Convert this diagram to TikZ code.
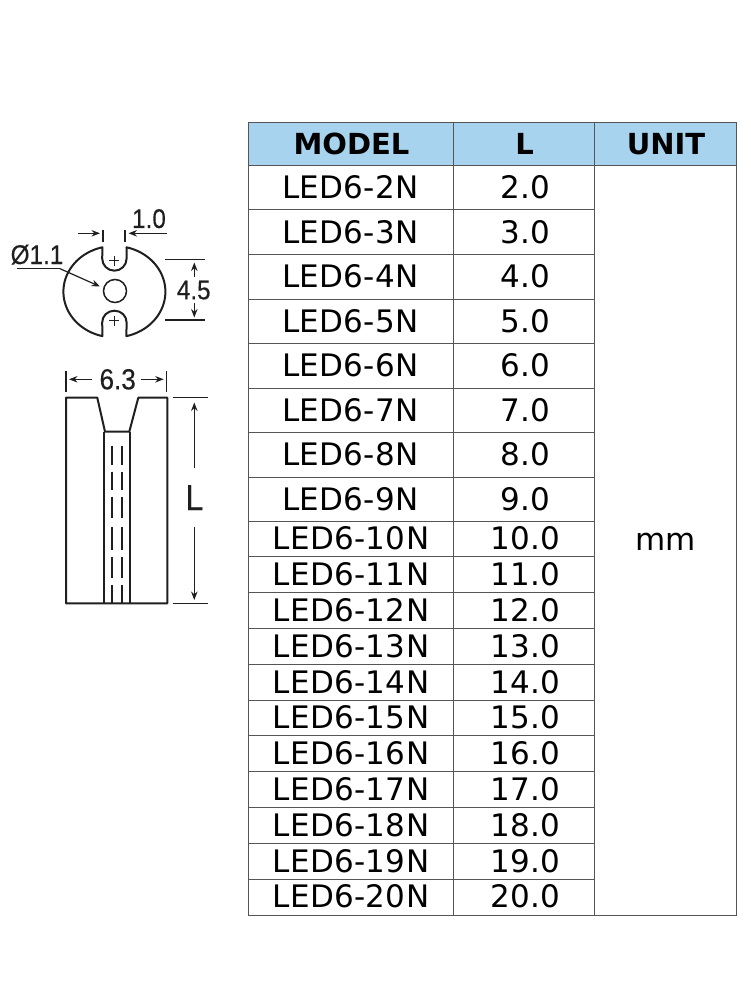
\documentclass[tikz,border=0pt]{standalone}
\usepackage{fontspec}
\setmainfont{DejaVu Sans}
\newfontfamily\cellfont[LetterSpace=1]{DejaVu Sans}
\newfontfamily\dimfont[FakeBold=0.25]{Liberation Sans}
\usetikzlibrary{arrows.meta}
\definecolor{headblue}{HTML}{A7D3EE}
\definecolor{gridgray}{HTML}{555555}
\definecolor{ink}{HTML}{1F1F1F}
\tikzset{
  x=1pt,y=-1pt,
  gridline/.style={draw=gridgray,line width=1pt},
  cellT/.style={anchor=base,inner sep=0pt,text=black,font=\cellfont\fontsize{31}{31}\selectfont},
  headT/.style={anchor=base,inner sep=0pt,text=black,font=\fontsize{29}{29}\selectfont\bfseries},
  dimT/.style={anchor=base,inner sep=0pt,text=ink,font=\dimfont\fontsize{27}{27}\selectfont,xscale=.9,transform shape},
  outlineline/.style={draw=ink,line width=2pt,line join=round},
  thinline/.style={draw=ink,line width=1.5pt},
  dashline/.style={draw=ink,line width=1.8pt},
  dimarrow/.style={draw=ink,line width=1.2pt,-{Stealth[length=8.5pt,width=6.5pt]}}
}
\begin{document}
\begin{tikzpicture}
\useasboundingbox (0,0) rectangle (750,1000);
% ---- table
\fill[headblue] (248,122.5) rectangle (736,166);
\foreach \y in {210,254.5,299,343.5,388,432.5,477,521,556.8,592.6,628.4,664.2,700,735.8,771.6,807.4,843.2,879}
  \draw[gridline] (248,\y) -- (594,\y);
\draw[gridline] (248,166) -- (736,166);
\draw[gridline] (248,122.5) rectangle (736,915);
\draw[gridline] (453,122.5) -- (453,915);
\draw[gridline] (594,122.5) -- (594,915);
\node[headT] (hModel) at (351.5,154.3) {MODEL};
\node[headT] (hL) at (524.5,154.3) {L};
\node[headT] (hUnit) at (666,154.3) {UNIT};
\foreach \n/\b in {2/199,3/243.2,4/287.7,5/332.2,6/376.7,7/421.2,8/465.7,9/510}
  {\node[cellT] (m\n) at (350.5,\b) {LED6-\n N};
   \node[cellT] (l\n) at (525,\b) {\n.0};}
\foreach \n in {10,...,20}{
  \pgfmathsetmacro{\b}{549.8+35.8*(\n-10)}
  \node[cellT] (m\n) at (351,\b) {LED6-\n N};
  \node[cellT] (l\n) at (525,\b) {\n.0};}
\node[cellT] (unit) at (665.5,550) {mm};
% ---- end view
\draw[outlineline]
  plot[domain=103.6:256.4,samples=50] ({114.4+51*cos(\x)},{291.7+45.7*sin(\x)})
  -- (102.2,258.5) .. controls (102.2,265.2) and (107.6,270.7) .. (114.4,270.7)
  .. controls (121.2,270.7) and (126.6,265.2) .. (126.6,258.5) -- (126.6,247.3)
  -- plot[domain=-76.4:76.4,samples=50] ({114.4+51*cos(\x)},{291.7+45.7*sin(\x)})
  -- (126.6,322.5) .. controls (126.6,315.8) and (121.2,310.7) .. (114.4,310.7)
  .. controls (107.6,310.7) and (102.2,315.8) .. (102.2,322.5) -- cycle;
\draw[thinline] (115,291) circle (11.5);
\draw[thinline] (109.3,260.7) -- (119.3,260.7) (114.3,255.7) -- (114.3,265.7);
\draw[thinline] (109.3,320.7) -- (119.3,320.7) (114.3,315.7) -- (114.3,325.7);
\draw[thinline] (103,230) -- (103,241.7) (125,230) -- (125,241.7);
\coordinate (a1) at (78.3,233.3); \coordinate (a2) at (100,233.3);
\coordinate (b1) at (166.7,233.3); \coordinate (b2) at (128.5,233.3);
\draw[dimarrow] (a1) -- (a2);
\draw[dimarrow] (b1) -- (b2);
\node[dimT] (t10) at (149,228) {1.0};
\node[dimT] (t11) at (37,264) {Ø1.1};
\coordinate (c0) at (16.7,268.7); \coordinate (c1) at (60,268.7); \coordinate (c2) at (100,286.5);
\draw[thinline] (c0) -- (c1);
\draw[dimarrow] (c1) -- (c2);
\draw[thinline] (165,259.3) -- (205,259.3) (165,320) -- (205,320);
\coordinate (d1) at (194.3,277); \coordinate (d2) at (194.3,262.5);
\coordinate (e1) at (194.3,303.3); \coordinate (e2) at (194.3,317.5);
\draw[dimarrow] (d1) -- (d2);
\draw[dimarrow] (e1) -- (e2);
\node[dimT] (t45) at (193.7,299.3) {4.5};
% ---- side view
\draw[outlineline] (66,397.7) -- (97.3,397.7) -- (105,431.7) -- (129.3,431.7) -- (138.3,397.7)
  -- (167.3,397.7) -- (167.3,603.3) -- (66,603.3) -- cycle;
\draw[outlineline] (104,431.7) -- (104,603.3) (130,431.7) -- (130,603.3);
\foreach \s/\e in {445.7/465,471.7/490,496.7/518.3,527.3/550,556.7/578.3,585/603.3}
  \draw[dashline] (111.7,\s) -- (111.7,\e) (122,\s) -- (122,\e);
\draw[thinline] (66,371) -- (66,391.7) (166.7,371) -- (166.7,391.7);
\coordinate (f1) at (91.7,379.3); \coordinate (f2) at (69,379.3);
\coordinate (g1) at (140.7,379.3); \coordinate (g2) at (163.7,379.3);
\draw[dimarrow] (f1) -- (f2);
\draw[dimarrow] (g1) -- (g2);
\node[dimT,font=\dimfont\fontsize{29}{29}\selectfont] (t63) at (117.7,389.3) {6.3};
\draw[thinline] (172.7,397.7) -- (208.3,397.7) (172.7,603.3) -- (208.3,603.3);
\coordinate (h1) at (194.3,468.3); \coordinate (h2) at (194.3,402.5);
\coordinate (i1) at (194.3,526.7); \coordinate (i2) at (194.3,600);
\draw[dimarrow] (h1) -- (h2);
\draw[dimarrow] (i1) -- (i2);
\node[dimT,font=\dimfont\fontsize{36}{36}\selectfont,xscale=1] (tL) at (194.5,510) {L};
\end{tikzpicture}
\end{document}
